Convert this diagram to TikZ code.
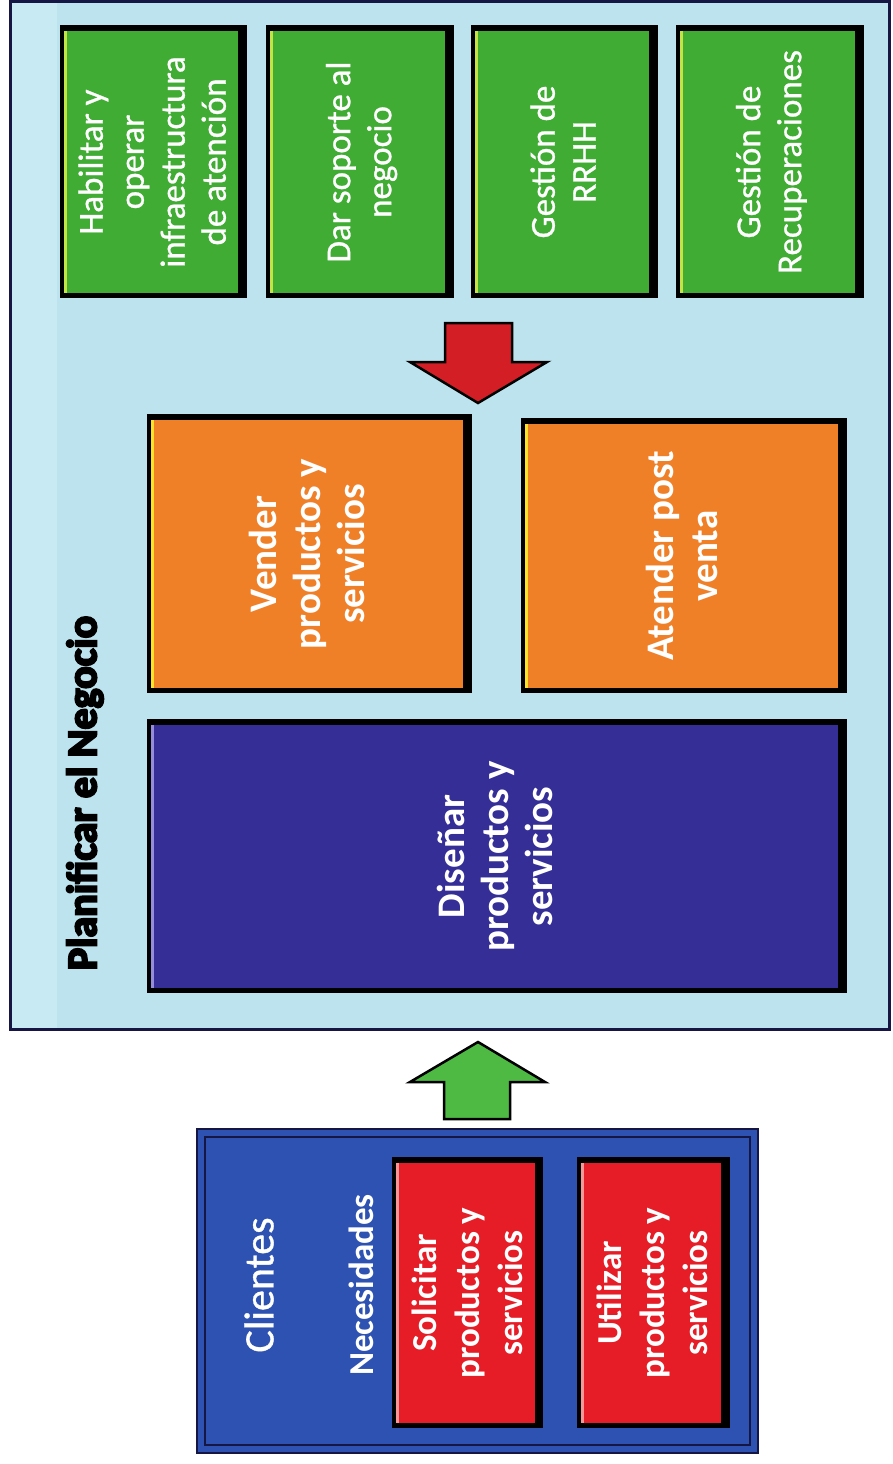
\documentclass[tikz,border=0pt]{standalone}
\usepackage{fontspec}
\setmainfont{Carlito}
\newfontfamily\titlefont[BoldFeatures={FakeBold=5}]{Carlito}
\newfontfamily\boxfont[FakeBold=0.8]{Carlito}
\usetikzlibrary{calc}

\definecolor{panelfill}{RGB}{188,227,238}
\definecolor{panelstrip}{RGB}{200,234,243}
\definecolor{navy}{RGB}{22,22,68}
\definecolor{leafgreen}{RGB}{64,172,52}
\definecolor{greenlite}{RGB}{196,228,70}
\definecolor{procorange}{RGB}{240,128,40}
\definecolor{orangelite}{RGB}{255,226,40}
\definecolor{indigo}{RGB}{52,46,150}
\definecolor{indigolite}{RGB}{150,140,222}
\definecolor{clientblue}{RGB}{46,82,178}
\definecolor{needred}{RGB}{230,28,38}
\definecolor{needlite}{RGB}{250,150,150}
\definecolor{arrowred}{RGB}{212,30,38}
\definecolor{arrowgreen}{RGB}{78,186,68}

\tikzset{
  boxbody/.style={inner sep=0pt, outer sep=0pt, text=white, anchor=north west},
  blockarrow/.style={draw=black, line width=2.5pt, line join=miter},
  vlabel/.style={rotate=90, text=white, inner sep=0pt},
}

% bevelled process box: name, x1, y1, x2, y2, fill, highlight, font, text
\newcommand\procbox[9]{%
  \fill[black] (#2,#3) rectangle (#4,#5);
  \node[boxbody, fill=#6, minimum width={#4-#2-13}, minimum height={#5-#3-11}]
    (#1) at ({#2+4},{#3+6})
    {\hspace*{10pt}\rotatebox{90}{#8\begin{tabular}{@{}c@{}}#9\end{tabular}}};
  \draw[#7, line width=2.5pt] ([xshift=1.25pt]#1.north west) -- ([xshift=1.25pt]#1.south west);
}

\newcommand\greenfont{\boxfont\fontsize{35}{41}\selectfont}
\newcommand\procfont{\bfseries\fontsize{39}{44}\selectfont}
\newcommand\needfont{\bfseries\fontsize{35}{43}\selectfont}

\begin{document}
\begin{tikzpicture}[x=1pt, y=-1pt]
  \useasboundingbox (0,0) rectangle (892,1464);
  \fill[white] (0,0) rectangle (892,1464);

  % business panel
  \node[draw=navy, line width=3pt, fill=panelfill, inner sep=0pt, outer sep=0pt,
        minimum width=879.5, minimum height=1028, anchor=north west] (panel) at (10,1.5) {};
  \fill[panelstrip] (11.5,3) rectangle (57,1028);

  \node[rotate=90, font=\titlefont\bfseries\fontsize{42}{50}\selectfont, inner sep=0pt]
    (title) at (85,793) {Planificar el Negocio};

  % support processes
  \procbox{habilitar}{60}{25}{247}{298}{leafgreen}{greenlite}{\greenfont}{Habilitar y\\operar\\infraestructura\\de atención}
  \procbox{soporte}{266}{25}{454}{298}{leafgreen}{greenlite}{\greenfont}{Dar soporte al\\negocio}
  \procbox{rrhh}{471}{25}{658}{298}{leafgreen}{greenlite}{\greenfont}{Gestión de\\RRHH}
  \procbox{recup}{676}{25}{864}{298}{leafgreen}{greenlite}{\greenfont}{Gestión de\\Recuperaciones}

  % core processes
  \procbox{vender}{147}{414}{472}{693}{procorange}{orangelite}{\procfont}{Vender\\productos y\\servicios}
  \procbox{atender}{521}{418}{847}{693}{procorange}{orangelite}{\procfont}{Atender post\\venta}
  \procbox{disenar}{147}{719}{847}{993}{indigo}{indigolite}{\procfont}{Diseñar\\productos y\\servicios}

  % support feeds the core processes
  \coordinate (rtop) at (478,323);
  \coordinate (rtip) at (478,403);
  \fill[arrowred] ($(rtop)+(-33,0)$) -- ($(rtop)+(34,0)$) -- ($(rtop)+(34,39)$) -- ($(rtop)+(69,39)$)
    -- (rtip) -- ($(rtop)+(-68,39)$) -- ($(rtop)+(-33,39)$) -- cycle;
  \draw[blockarrow] ($(rtop)+(-33,0)$) -- ($(rtop)+(34,0)$) -- ($(rtop)+(34,39)$) -- ($(rtop)+(69,39)$)
    -- (rtip) -- ($(rtop)+(-68,39)$) -- ($(rtop)+(-33,39)$) -- cycle;

  % customers
  \node[draw=navy, line width=2.5pt, fill=clientblue, inner sep=0pt, outer sep=0pt,
        minimum width=561, minimum height=324, anchor=north west] (clientes) at (197,1129) {};
  \draw[navy, line width=1.2pt] ($(clientes.north west)+(8,8)$) rectangle ($(clientes.south east)+(-8,-8)$);
  \node[vlabel, font=\boxfont\fontsize{42}{48}\selectfont] (clientes-label) at (259,1285) {Clientes};
  \node[vlabel, font=\bfseries\fontsize{35}{40}\selectfont] (necesidades) at (361,1285) {Necesidades};

  \procbox{solicitar}{392}{1157}{543}{1428}{needred}{needlite}{\needfont}{Solicitar\\productos y\\servicios}
  \procbox{utilizar}{577}{1157}{730}{1428}{needred}{needlite}{\needfont}{Utilizar\\productos y\\servicios}

  % needs feed the business
  \coordinate (gbase) at (477,1119);
  \coordinate (gtip) at (478,1042);
  \fill[arrowgreen] ($(gbase)+(-33,0)$) -- ($(gbase)+(33,0)$) -- ($(gbase)+(33,-37)$) -- ($(gbase)+(68,-37)$)
    -- (gtip) -- ($(gbase)+(-67,-37)$) -- ($(gbase)+(-33,-37)$) -- cycle;
  \draw[blockarrow] ($(gbase)+(-33,0)$) -- ($(gbase)+(33,0)$) -- ($(gbase)+(33,-37)$) -- ($(gbase)+(68,-37)$)
    -- (gtip) -- ($(gbase)+(-67,-37)$) -- ($(gbase)+(-33,-37)$) -- cycle;
\end{tikzpicture}
\end{document}
